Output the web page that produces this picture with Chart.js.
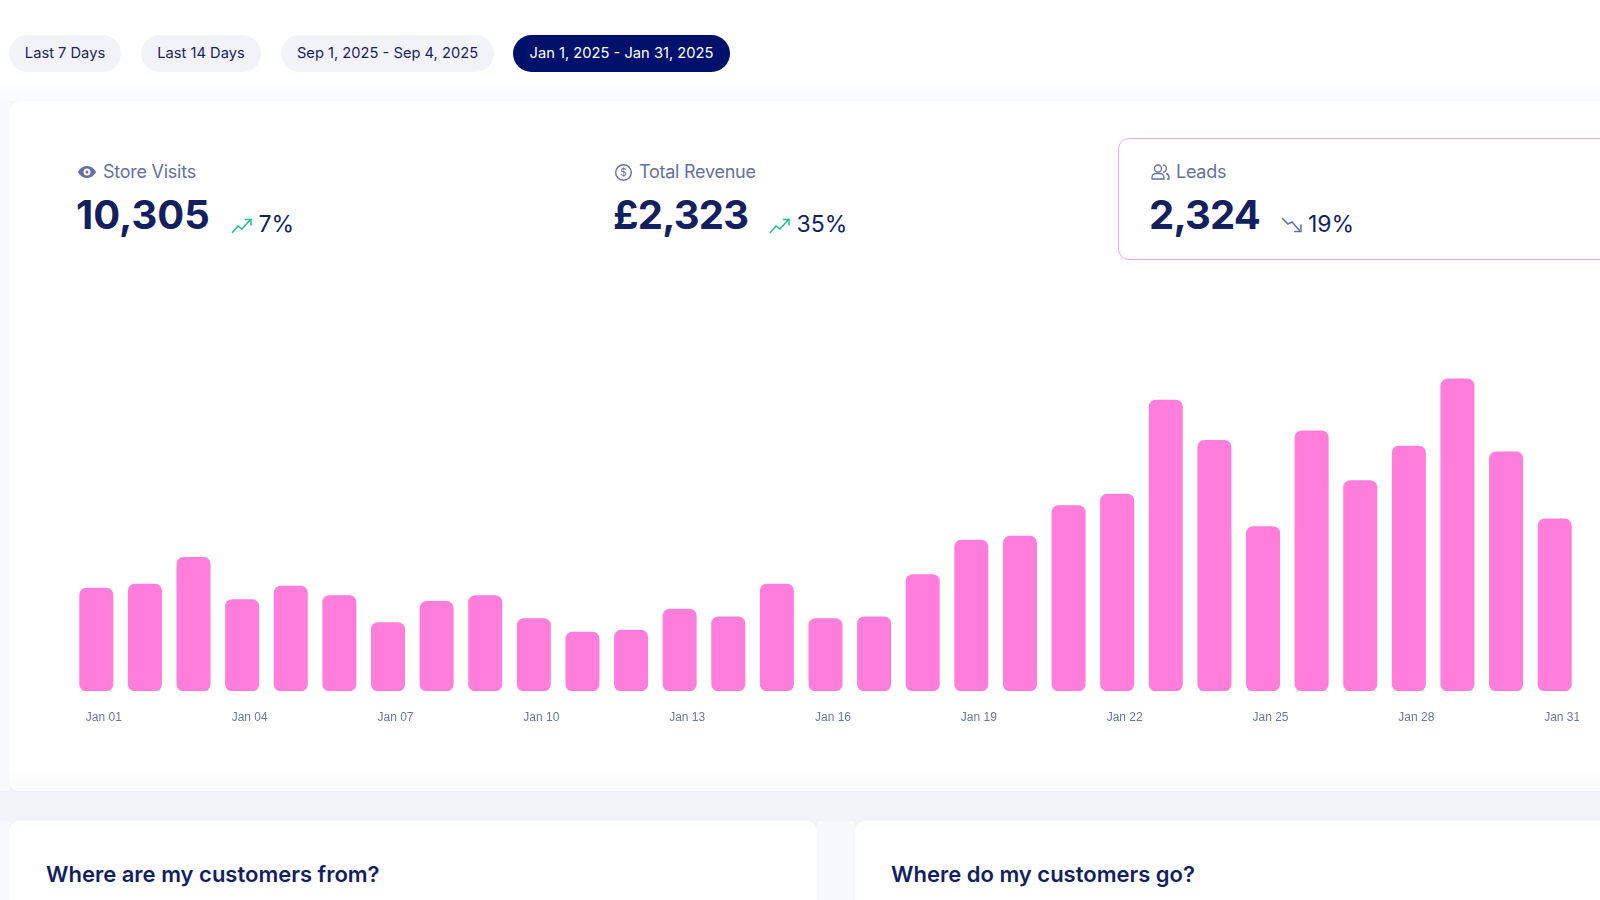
<!DOCTYPE html>
<html>
<head>
<meta charset="utf-8">
<title>Leads</title>
<script src="https://cdn.jsdelivr.net/npm/chart.js@4"></script>
<style>
  * { box-sizing: border-box; margin: 0; padding: 0; }
  html, body { width: 1600px; height: 900px; overflow: hidden; }
  body { position: relative; background: #f2f3f8; font-family: Inter, sans-serif; color: #141f5f; }

  .top-strip { position: absolute; left: 0; top: 0; width: 1600px; height: 101px;
    background: linear-gradient(#ffffff 0, #ffffff 76px, #fafbfd 101px); }
  .left-strip { position: absolute; left: 0; top: 101px; width: 10px; height: 690px; background: #f8f9fc; }
  .left-strip.low { top: 821px; height: 79px; }
  .mid-strip { position: absolute; left: 817px; top: 821px; width: 38px; height: 79px; background: #f7f8fb; }

  .pill { position: absolute; top: 35px; height: 37px; line-height: 36px; border-radius: 19px;
    background: #f2f3f8; color: #1a2260; font-size: 14.7px; text-align: center; white-space: nowrap; }
  .pill.active { background: #00116b; color: #ffffff; }

  .card { position: absolute; background: #ffffff; border-radius: 10px; }
  #mainCard { left: 9px; top: 101px; width: 1640px; height: 690px;
    background: linear-gradient(#ffffff 0, #ffffff 665px, #fafafc 690px); }
  #fromCard { left: 9px; top: 821px; width: 808px; height: 120px; }
  #goCard { left: 855px; top: 821px; width: 800px; height: 120px; }

  .leads-box { position: absolute; left: 1118px; top: 138px; width: 600px; height: 122px;
    border: 1.5px solid #ffa6e6; border-radius: 11px; }

  .stat-label { position: absolute; top: 160px; font-size: 18px; line-height: 24px; letter-spacing: -0.25px; color: #6670a0; white-space: nowrap; }
  .stat-value { position: absolute; top: 191px; font-size: 40px; line-height: 48px; font-weight: 700; color: #141f5f; white-space: nowrap; }
  .stat-pct { position: absolute; top: 210px; font-size: 23px; line-height: 28px; color: #141f5f; white-space: nowrap; }
  .icon { position: absolute; }
  h2 { position: absolute; top: 860px; font-size: 22px; line-height: 28px; font-weight: 600; color: #141f5f; white-space: nowrap; }

  #chartWrap { position: absolute; left: 72px; top: 345.8px; width: 1507px; height: 380.6px; }
</style>
</head>
<body>
<div class="top-strip"></div>
<div class="left-strip"></div>
<div class="left-strip low"></div>
<div class="mid-strip"></div>

<div class="pill" style="left:9px;width:112px">Last 7 Days</div>
<div class="pill" style="left:141px;width:120px">Last 14 Days</div>
<div class="pill" style="left:281px;width:213px">Sep 1, 2025 - Sep 4, 2025</div>
<div class="pill active" style="left:513px;width:217px">Jan 1, 2025 - Jan 31, 2025</div>

<div class="card" id="mainCard"></div>
<div class="card" id="fromCard"></div>
<div class="card" id="goCard"></div>
<div class="leads-box"></div>

<!-- Store Visits -->
<svg class="icon" style="left:77px;top:163px" width="20" height="18" viewBox="0 0 20 18">
  <path fill="#6670a0" fill-rule="evenodd" d="M10 3C5.500 3 2 6.500 1 9c1 2.500 4.500 6 9 6s8-3.500 9-6c-1-2.500-4.500-6-9-6zm0 2.500a3.500 3.500 0 1 1 0 7 3.500 3.500 0 0 1 0-7zm0 2a1.500 1.500 0 1 0 0 3 1.500 1.500 0 0 0 0-3z"/>
</svg>
<div class="stat-label" style="left:103px">Store Visits</div>
<div class="stat-value" style="left:76px">10,305</div>
<svg class="icon" style="left:231px;top:218px" width="22" height="16" viewBox="0 0 22 16" fill="none" stroke="#1dbf8f" stroke-width="1.500">
  <path d="M1 15 7 8l4 3 8-9"/><path d="M14 1.500h6v6"/>
</svg>
<div class="stat-pct" style="left:258.500px">7%</div>

<!-- Total Revenue -->
<svg class="icon" style="left:614px;top:163px" width="19" height="19" viewBox="0 0 19 19" fill="none">
  <circle cx="9.500" cy="9.500" r="7.800" stroke="#6670a0" stroke-width="1.400"/>
  <text x="9.500" y="13" font-size="10" text-anchor="middle" fill="#6670a0" font-family="Inter">$</text>
</svg>
<div class="stat-label" style="left:639px">Total Revenue</div>
<div class="stat-value" style="left:613px;letter-spacing:-0.8px">£2,323</div>
<svg class="icon" style="left:769px;top:218px" width="22" height="16" viewBox="0 0 22 16" fill="none" stroke="#1dbf8f" stroke-width="1.500">
  <path d="M1 15 7 8l4 3 8-9"/><path d="M14 1.500h6v6"/>
</svg>
<div class="stat-pct" style="left:796.500px">35%</div>

<!-- Leads -->
<svg class="icon" style="left:1151px;top:163px" width="19" height="18" viewBox="0 0 19 18" fill="none" stroke="#6670a0" stroke-width="1.300">
  <circle cx="7" cy="5.500" r="3.500"/><path d="M1 16v-1.500c0-2.500 2-4 4-4h4c2 0 4 1.500 4 4V16z"/>
  <path d="M12 2a3.500 3.500 0 0 1 0 7"/><path d="M15 10.500c2 .5 3 2 3 4V16h-2"/>
</svg>
<div class="stat-label" style="left:1176px">Leads</div>
<div class="stat-value" style="left:1149px;letter-spacing:-0.8px">2,324</div>
<svg class="icon" style="left:1281px;top:217px" width="22" height="16" viewBox="0 0 22 16" fill="none" stroke="#6670a0" stroke-width="1.500">
  <path d="M1 1l6 6 4-2 8 9"/><path d="M13 14.500h7v-7"/>
</svg>
<div class="stat-pct" style="left:1308px">19%</div>

<div id="chartWrap"><canvas id="leadsChart"></canvas></div>

<h2 style="left:46px">Where are my customers from?</h2>
<h2 style="left:891px">Where do my customers go?</h2>

<script>
// leads per day, January 2025
const categories = ['Jan 01','Jan 02','Jan 03','Jan 04','Jan 05','Jan 06','Jan 07','Jan 08','Jan 09','Jan 10',
  'Jan 11','Jan 12','Jan 13','Jan 14','Jan 15','Jan 16','Jan 17','Jan 18','Jan 19','Jan 20',
  'Jan 21','Jan 22','Jan 23','Jan 24','Jan 25','Jan 26','Jan 27','Jan 28','Jan 29','Jan 30','Jan 31'];
const leads = [54, 56, 70, 48, 55, 50, 36, 47, 50, 38, 31, 32, 43, 39, 56, 38, 39, 61,
  79, 81, 97, 103, 152, 131, 86, 136, 110, 128, 163, 125, 90];
const yMax = 180;

new Chart(document.getElementById('leadsChart').getContext('2d'), {
  type: 'bar',
  data: {
    labels: categories,
    datasets: [{
      label: 'Leads',
      data: leads,
      backgroundColor: '#ff7edb',
      borderRadius: 7,
      borderSkipped: false,
      categoryPercentage: 1,
      barPercentage: 0.7
    }]
  },
  options: {
    responsive: true,
    maintainAspectRatio: false,
    animation: false,
    plugins: { legend: { display: false }, tooltip: { enabled: false } },
    scales: {
      x: {
        // tickLength pushes the labels down; a big ticks.padding would also pad the sides
        grid: { display: false, tickLength: 18 },
        border: { display: false },
        ticks: {
          autoSkip: false,
          maxRotation: 0,
          padding: 1.5,
          labelOffset: 7.5,
          color: '#6b75a5',
          font: { family: '"Liberation Sans", Arial, sans-serif', size: 12 },
          callback: function(value, index) {
            return index % 3 === 0 ? categories[index] : '';
          }
        }
      },
      y: { display: false, min: 0, max: yMax }
    }
  }
});
</script>
</body>
</html>
